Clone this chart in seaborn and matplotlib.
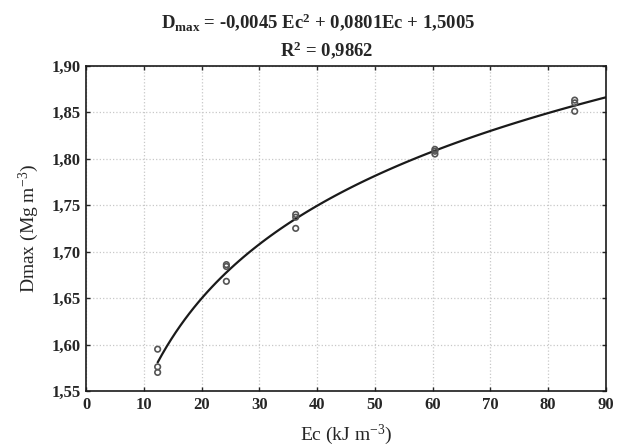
import numpy as np
import pandas as pd
import matplotlib
matplotlib.use("Agg")
import matplotlib.pyplot as plt
import seaborn as sns
from matplotlib.ticker import FuncFormatter

# compaction energy (kJ m-3) and max density (Mg m-3)
ec = [12.4, 12.4, 12.4, 24.3, 24.3, 24.3, 36.3, 36.3, 36.3, 60.4, 60.4, 60.4, 84.6, 84.6, 84.6]
dmax = [1.595, 1.576, 1.570, 1.686, 1.684, 1.668, 1.740, 1.737, 1.725,
        1.810, 1.808, 1.805, 1.863, 1.860, 1.851]

x_ticks = [0, 10, 20, 30, 40, 50, 60, 70, 80, 90]
y_ticks = [1.55, 1.60, 1.65, 1.70, 1.75, 1.80, 1.85, 1.90]

df = pd.DataFrame({"Ec": ec, "Dmax": dmax})

sns.set_style("ticks")
plt.rcParams["font.family"] = ["Liberation Serif", "DejaVu Serif"]
plt.rcParams["mathtext.fontset"] = "custom"
plt.rcParams["mathtext.rm"] = "Liberation Serif"
plt.rcParams["mathtext.bf"] = "Liberation Serif:bold"
plt.rcParams["mathtext.it"] = "Liberation Serif:italic"

fig = plt.figure(figsize=(6.17, 4.48), dpi=100)
ax = fig.add_axes([0.1394, 0.1272, 0.8426, 0.7261])

# fitted curve spans from the first point to the right edge
ax.set_xlim(12.4, 90)
sns.regplot(x="Ec", y="Dmax", data=df, logx=True, ci=None, scatter=False,
            truncate=False, ax=ax, line_kws={"color": "#1a1a1a", "lw": 1.6})
sns.scatterplot(x="Ec", y="Dmax", data=df, ax=ax, s=16, facecolor="none",
                edgecolor="#555555", linewidth=1.2, zorder=3)

ax.set_xlim(0, 90)
ax.set_ylim(1.55, 1.90)
ax.set_xticks(x_ticks)
ax.set_yticks(y_ticks)
ax.xaxis.set_major_formatter(FuncFormatter(lambda v, p: f"{v:.0f}"))
ax.yaxis.set_major_formatter(FuncFormatter(lambda v, p: f"{v:.2f}".replace(".", ",")))
ax.grid(True, color="#c8c8c8", linestyle=":", linewidth=0.9)
ax.tick_params(direction="in", length=3, width=1, top=True, right=True,
               labelsize=12, pad=4)
for lab in ax.get_xticklabels() + ax.get_yticklabels():
    lab.set_fontweight("bold")
for s in ax.spines.values():
    s.set_linewidth(1.2)
    s.set_color("#1a1a1a")

ax.set_xlabel(r"Ec (kJ m$^{\mathregular{-3}}$)", fontsize=14, labelpad=7)
ax.set_ylabel(r"Dmax (Mg m$^{\mathregular{-3}}$)", fontsize=14, labelpad=7)

fig.text(0.515, 0.951, r"$\mathbf{D_{max}}$ = -0,0045 Ec$^{\mathbf{2}}$ + 0,0801Ec + 1,5005",
         ha="center", va="center", fontsize=13.5, fontweight="bold")
fig.text(0.53, 0.888, r"R$^{\mathbf{2}}$ = 0,9862",
         ha="center", va="center", fontsize=13.5, fontweight="bold")

fig.savefig("out.png", dpi=100)
